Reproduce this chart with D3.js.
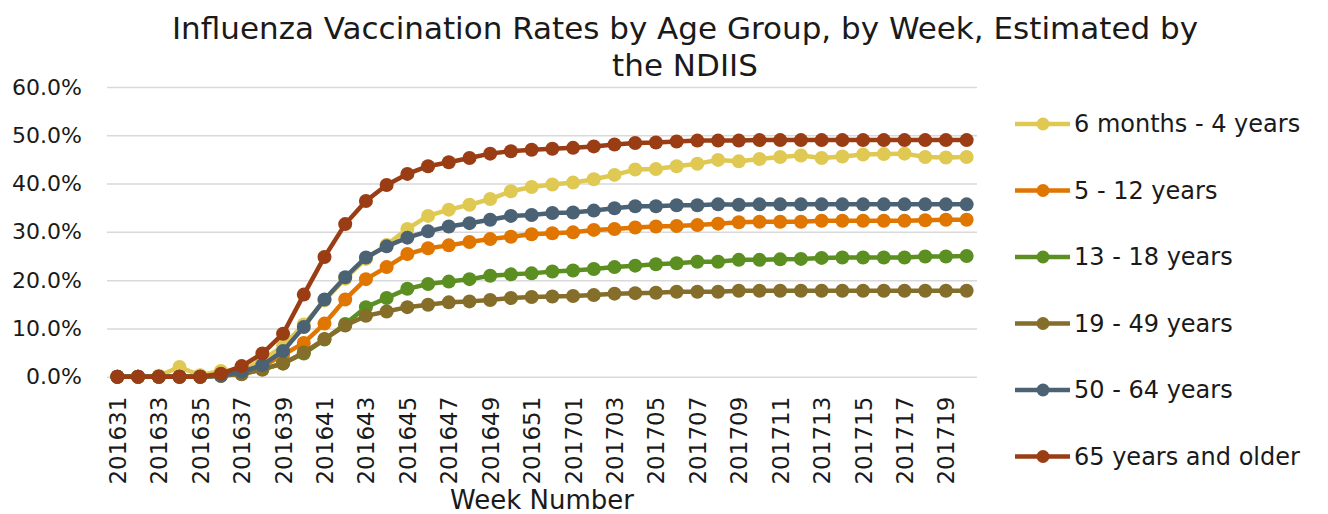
<!DOCTYPE html>
<html>
<head>
<meta charset="utf-8">
<script src="https://cdn.jsdelivr.net/npm/d3@7"></script>
<style>
	body { margin: 0; background: #fff; }
	text { font-family: "Century Gothic", "DejaVu Sans", sans-serif; fill: #1a1a1a; }
</style>
</head>
<body>
<div id="chart"></div>
<script>
// Week numbers (category axis)
const weeks = [
	"201631", "201632", "201633", "201634", "201635", "201636", "201637", "201638",
	"201639", "201640", "201641", "201642", "201643", "201644", "201645", "201646",
	"201647", "201648", "201649", "201650", "201651", "201652", "201701", "201702",
	"201703", "201704", "201705", "201706", "201707", "201708", "201709", "201710",
	"201711", "201712", "201713", "201714", "201715", "201716", "201717", "201718",
	"201719", "201720"
];

const seriesNames = ["6 months - 4 years", "5 - 12 years", "13 - 18 years", "19 - 49 years", "50 - 64 years", "65 years and older"];
const seriesColors = ["#dfc952", "#e07500", "#5b8f22", "#846e2a", "#4b6275", "#9a3d14"];

// vaccination rate, percent
const months6to4 = [0, 0, 0.2, 2.0, 0.3, 1.2, 1.4, 3.4, 6.4, 10.8, 15.8, 20.3, 24.4, 27.3, 30.6, 33.3, 34.6, 35.6, 36.8, 38.4, 39.3, 39.8, 40.2, 40.9, 41.8, 42.9, 43.0, 43.6, 44.1, 44.9, 44.6, 45.1, 45.5, 45.8, 45.3, 45.6, 46.0, 46.1, 46.2, 45.5, 45.4, 45.5];
const years5to12 = [0, 0, 0, 0, 0, 0.2, 0.8, 2.1, 4.5, 7.0, 11.0, 16.0, 20.2, 22.7, 25.4, 26.6, 27.2, 27.9, 28.5, 29.0, 29.5, 29.7, 29.9, 30.4, 30.6, 30.9, 31.1, 31.2, 31.4, 31.7, 32.0, 32.1, 32.1, 32.1, 32.3, 32.3, 32.3, 32.3, 32.3, 32.4, 32.5, 32.5];
const years13to18 = [0, 0, 0, 0, 0, 0.2, 0.6, 1.5, 2.8, 4.8, 7.7, 10.9, 14.4, 16.3, 18.2, 19.2, 19.7, 20.2, 20.9, 21.2, 21.4, 21.8, 22.0, 22.3, 22.7, 23.0, 23.3, 23.5, 23.8, 23.8, 24.2, 24.2, 24.3, 24.4, 24.6, 24.7, 24.7, 24.7, 24.7, 24.9, 24.9, 25.0];
const years19to49 = [0, 0, 0, 0, 0, 0.3, 0.5, 1.5, 2.7, 5.0, 7.8, 10.6, 12.6, 13.5, 14.4, 14.9, 15.4, 15.6, 15.9, 16.3, 16.5, 16.6, 16.7, 16.9, 17.2, 17.3, 17.4, 17.6, 17.6, 17.6, 17.8, 17.8, 17.8, 17.8, 17.8, 17.8, 17.8, 17.8, 17.8, 17.8, 17.8, 17.8];
const years50to64 = [0, 0, 0, 0, 0, 0.2, 1.0, 2.4, 5.3, 10.3, 16.0, 20.6, 24.7, 27.0, 28.8, 30.1, 31.1, 31.8, 32.5, 33.3, 33.5, 33.9, 34.0, 34.4, 34.9, 35.3, 35.3, 35.5, 35.5, 35.7, 35.6, 35.7, 35.7, 35.7, 35.7, 35.7, 35.7, 35.7, 35.7, 35.7, 35.7, 35.7];
const years65plus = [0, 0, 0, 0, 0, 0.6, 2.2, 4.8, 8.9, 17.0, 24.8, 31.6, 36.4, 39.7, 42.0, 43.6, 44.4, 45.3, 46.2, 46.7, 47.0, 47.2, 47.4, 47.7, 48.1, 48.4, 48.5, 48.7, 48.9, 48.9, 48.9, 49.0, 49.0, 49.0, 49.0, 49.0, 49.0, 49.0, 49.0, 49.0, 49.0, 49.0];

const yTicks = [0, 10, 20, 30, 40, 50, 60];

const series = [months6to4, years5to12, years13to18, years19to49, years50to64, years65plus].map((values, i) => ({
	name: seriesNames[i],
	color: seriesColors[i],
	values: values.map((v, j) => ({ week: weeks[j], value: v }))
}));

const width = 1328;
const height = 514;
const plot = { left: 107, right: 977, top: 87, bottom: 376.7 };

const svg = d3
	.select("#chart")
	.append("svg")
	.attr("width", width)
	.attr("height", height);

const x = d3.scalePoint().domain(weeks).range([plot.left, plot.right]).padding(0.5);
const y = d3.scaleLinear().domain([0, 60]).range([plot.bottom, plot.top]);

// Title
svg.append("text")
	.attr("x", 685)
	.attr("y", 39)
	.attr("text-anchor", "middle")
	.style("font-size", "31px")
	.text("Influenza Vaccination Rates by Age Group, by Week, Estimated by");
svg.append("text")
	.attr("x", 685)
	.attr("y", 76)
	.attr("text-anchor", "middle")
	.style("font-size", "31px")
	.text("the NDIIS");

// Gridlines
const yAxis = d3.axisLeft(y)
	.tickValues(yTicks)
	.tickSize(-(plot.right - plot.left))
	.tickPadding(25)
	.tickFormat((d) => d.toFixed(1) + "%");

svg.append("g")
	.attr("class", "y-axis")
	.attr("transform", "translate(" + plot.left + ",0)")
	.call(yAxis)
	.call((g) => g.select(".domain").remove())
	.call((g) => g.selectAll("line").attr("stroke", "#d9d9d9").attr("stroke-width", 1.5))
	.call((g) => g.selectAll("text").style("font-size", "22px").attr("fill", "#1a1a1a"));

// X axis labels, every second week
const xAxis = d3.axisBottom(x)
	.tickValues(weeks.filter((d, i) => i % 2 === 0))
	.tickSize(0);

svg.append("g")
	.attr("class", "x-axis")
	.attr("transform", "translate(0," + plot.bottom + ")")
	.call(xAxis)
	.call((g) => g.select(".domain").remove())
	.call((g) => g.selectAll("text")
		.style("font-size", "23px")
		.attr("fill", "#1a1a1a")
		.attr("text-anchor", "end")
		.attr("transform", "rotate(-90)")
		.attr("x", -20)
		.attr("y", 0)
		.attr("dy", "0.35em"));

svg.append("text")
	.attr("x", (plot.left + plot.right) / 2)
	.attr("y", 509)
	.attr("text-anchor", "middle")
	.style("font-size", "26px")
	.text("Week Number");

// Lines and markers
const line = d3.line()
	.x((d) => x(d.week))
	.y((d) => y(d.value));

const groups = svg.selectAll(".series")
	.data(series)
	.enter()
	.append("g")
	.attr("class", "series");

groups.append("path")
	.attr("d", (d) => line(d.values))
	.attr("fill", "none")
	.attr("stroke", (d) => d.color)
	.attr("stroke-width", 4.5)
	.attr("stroke-linejoin", "round");

groups.selectAll("circle")
	.data((d) => d.values.map((v) => ({ ...v, color: d.color })))
	.enter()
	.append("circle")
	.attr("cx", (d) => x(d.week))
	.attr("cy", (d) => y(d.value))
	.attr("r", 7)
	.attr("fill", (d) => d.color);

// Legend
const legend = svg.selectAll(".legend")
	.data(series)
	.enter()
	.append("g")
	.attr("class", "legend")
	.attr("transform", (d, i) => "translate(1015," + (124 + i * 66.5) + ")");

legend.append("line")
	.attr("x1", 0)
	.attr("x2", 55)
	.attr("stroke", (d) => d.color)
	.attr("stroke-width", 4.5);

legend.append("circle")
	.attr("cx", 28)
	.attr("r", 6.5)
	.attr("fill", (d) => d.color);

legend.append("text")
	.attr("x", 59)
	.attr("dy", "0.35em")
	.style("font-size", "24px")
	.text((d) => d.name);
</script>
</body>
</html>
